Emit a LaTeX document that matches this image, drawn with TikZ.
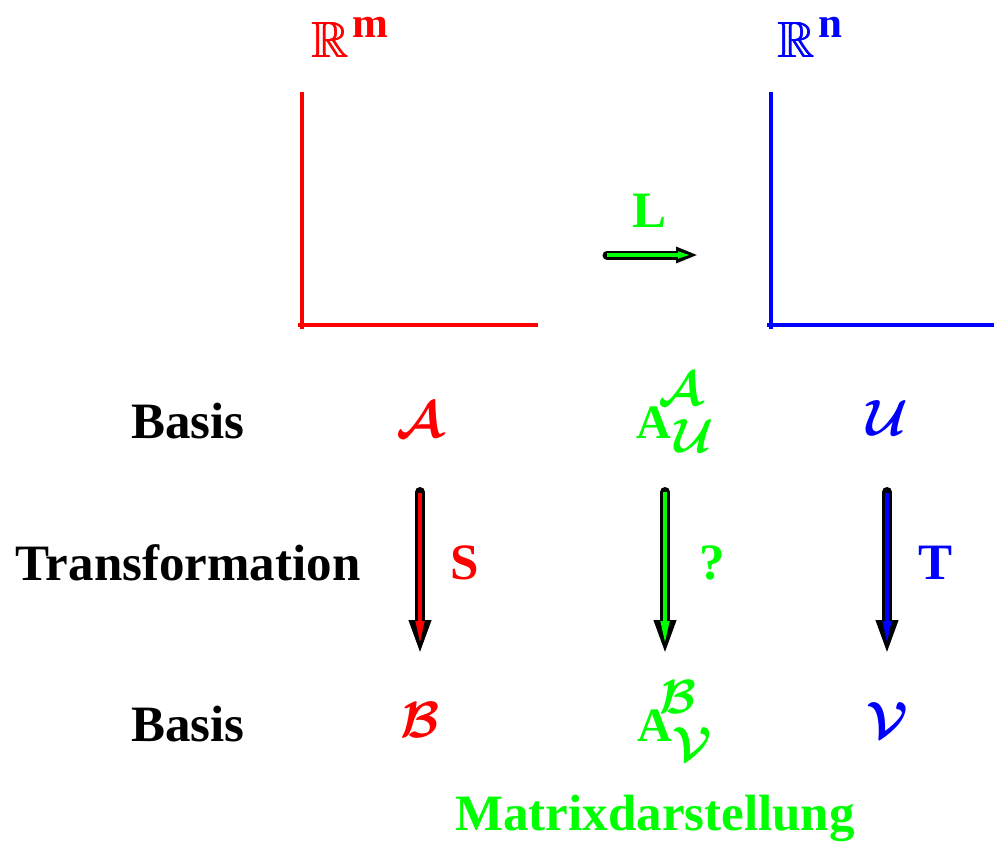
\RequirePackage{fix-cm}
\documentclass[tikz,border=0pt]{standalone}
\usepackage{amssymb}
\usepackage{fontspec}
\setmainfont{Liberation Serif}
\usetikzlibrary{arrows.meta, positioning}
\newcommand\fatR{\rlap{$\mathbb{R}$}\rlap{\kern0.6pt$\mathbb{R}$}\kern1.2pt$\mathbb{R}$}

\begin{document}
\begin{tikzpicture}[x=1pt, y=-1pt,
    lbl/.style={font=\fontsize{51}{60}\selectfont\bfseries\boldmath, inner sep=0pt},
    sym/.style={lbl, text=#1},
    axis/.style={draw=#1, line width=4pt},
    arrout/.style={line width=10pt, line cap=round, -{Triangle[length=35pt, width=20pt]}},
    arrin/.style={draw=#1, line width=4pt, -{Triangle[length=24pt, width=8pt]}},
    Lout/.style={line width=9pt, line cap=round, -{Triangle[length=22pt, width=15pt]}},
    Lin/.style={draw=#1, line width=4pt, -{Triangle[length=14pt, width=6pt]}},
]
\useasboundingbox (0,0) rectangle (994,846);

% Spaces
\node[sym=red, anchor=base west] (Rm) at (311,57)
    {\fatR\hspace{3pt}\raisebox{20pt}{\fontsize{43}{50}\selectfont m}};
\node[sym=blue, anchor=base west] (Rn) at (777,57)
    {\fatR\hspace{3pt}\raisebox{20pt}{\fontsize{43}{50}\selectfont n}};

\draw[axis=red] (302,92) -- (302,329);
\draw[axis=red] (298,325) -- (538,325);
\draw[axis=blue] (771,92) -- (771,329);
\draw[axis=blue] (767,325) -- (994,325);

% Linear map
\node[sym=green] (L) at (650,211) {L};
\coordinate (Lbeg) at (607,255);
\coordinate (Lend) at (698,255);
\draw[Lout] (Lbeg) -- (Lend);
\draw[Lin=green, shorten >=6pt] (Lbeg) -- (Lend);

% Row labels
\node[lbl] (bas1) at (188,421) {Basis};
\node[lbl] (trafo) at (188,563) {Transformation};
\node[lbl] (bas2) at (188,724) {Basis};

% Bases
\node[sym=red] (cA) at (420,420) {$\mathcal{A}$};
\node[sym=red] (cB) at (420,720) {$\mathcal{B}$};
\node[sym=blue] (cU) at (887,418) {$\mathcal{U}$};
\node[sym=blue] (cV) at (887,720) {$\mathcal{V}$};

% Matrices
\node[sym=green, anchor=base west] (mA) at (636,438)
    {\fontsize{48}{56}\selectfont A\hspace{-12pt}\rlap{\raisebox{33pt}{$\mathcal{A}$}}\hspace{16pt}\raisebox{-14pt}{$\mathcal{U}$}};
\node[sym=green, anchor=base west] (mB) at (637,741)
    {\fontsize{48}{56}\selectfont A\hspace{-12pt}\rlap{\raisebox{28pt}{$\mathcal{B}$}}\hspace{13pt}\raisebox{-19pt}{$\mathcal{V}$}};

% Transformations
\draw[arrout] (cA.south |- 0,492) -- (cB.north |- 0,655);
\draw[arrin=red] (cA.south |- 0,493) -- (cB.north |- 0,645);
\draw[arrout] (cU.south |- 0,492) -- (cV.north |- 0,655);
\draw[arrin=blue] (cU.south |- 0,493) -- (cV.north |- 0,645);
\coordinate (qbeg) at (665,492);
\coordinate (qend) at (665,655);
\draw[arrout] (qbeg) -- (qend);
\draw[arrin=green, shorten >=10pt] (qbeg) -- (qend);

\node[sym=red] (S) at (465,563) {S};
\node[sym=green] (q) at (712,563) {?};
\node[sym=blue] (T) at (935,563) {T};

\node[sym=green] (mat) at (655,818) {Matrixdarstellung};

\end{tikzpicture}
\end{document}
